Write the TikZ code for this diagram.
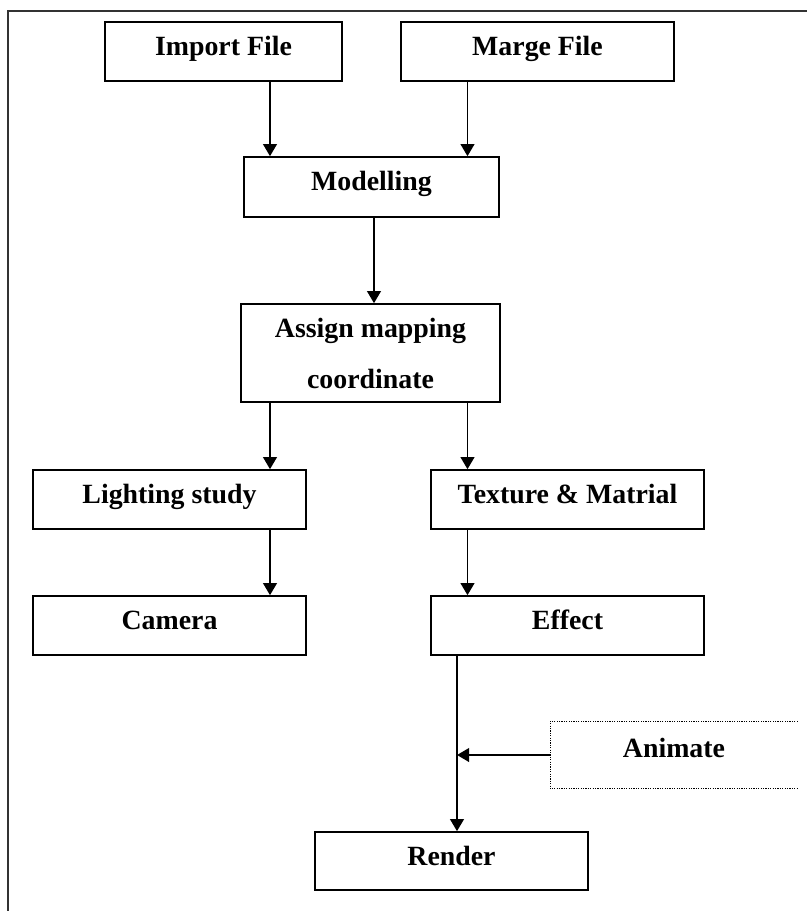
\documentclass[tikz,border=0pt]{standalone}
\usepackage{fontspec}
\setmainfont{Liberation Serif}
\usetikzlibrary{positioning, calc, arrows.meta}

\begin{document}
\begin{tikzpicture}[x=0.25mm, y=-0.25mm,
    box/.style={draw, line width=0.4mm, rectangle, inner sep=0pt,
        minimum width=68.25mm, minimum height=14.75mm,
        font=\fontsize{19.8}{23.8}\selectfont\bfseries,
        text height=14pt, text depth=9pt},
    arr/.style={line width=0.45mm, -{Triangle[width=3.4mm, length=3mm]}},
    dotbox/.style={line width=0.25mm, dash pattern=on 0.3mm off 0.3mm}]
    \useasboundingbox (0,0) rectangle (807,911);
    \draw[black!80, line width=0.4mm] (8,911) -- (8,11) -- (807,11);

    % boxes
    \node[box, minimum width=59.25mm] (imp) at (223.5,51.5) {Import File};
    \node[box] (mrg) at (537.5,51.5) {Marge File};
    \node[box, minimum width=63.75mm, minimum height=15mm] (mod) at (371.5,187) {Modelling};
    \node[box, minimum width=64.75mm, minimum height=24.5mm, align=center,
        text height={}, text depth={}] (asg) at (370.5,353) {Assign mapping\\[4.4mm]coordinate};
    \node[box] (lgt) at (169.5,499.5) {Lighting study};
    \node[box] (tex) at (567.5,499.5) {Texture \& Matrial};
    \node[box] (cam) at (169.5,625.5) {Camera};
    \node[box] (eff) at (567.5,625.5) {Effect};
    \node[box, minimum height=14.5mm, text depth=7pt] (ren) at (451.5,861) {Render};
    \node[box, draw=none, minimum width=61.5mm, minimum height=16.5mm, text depth=11pt] (anim) at (674,755) {Animate};
    \draw[dotbox] (anim.north east) -- (anim.north west) -- (anim.south west) -- (anim.south east);

    % arrow columns
    \coordinate (colA) at (270,0);
    \coordinate (colB) at (467.5,0);
    \coordinate (colC) at (374,0);
    \coordinate (colD) at (457,0);

    \draw[arr] (imp.south -| colA) -- (mod.north -| colA);
    \draw[arr] (mrg.south -| colB) -- (mod.north -| colB);
    \draw[arr] (mod.south -| colC) -- (asg.north -| colC);
    \draw[arr] (asg.south -| colA) -- (lgt.north -| colA);
    \draw[arr] (asg.south -| colB) -- (tex.north -| colB);
    \draw[arr] (lgt.south -| colA) -- (cam.north -| colA);
    \draw[arr] (tex.south -| colB) -- (eff.north -| colB);
    \draw[arr] (eff.south -| colD) -- (ren.north -| colD);
    \draw[arr] (anim.west) -- (anim.west -| colD);
\end{tikzpicture}
\end{document}
